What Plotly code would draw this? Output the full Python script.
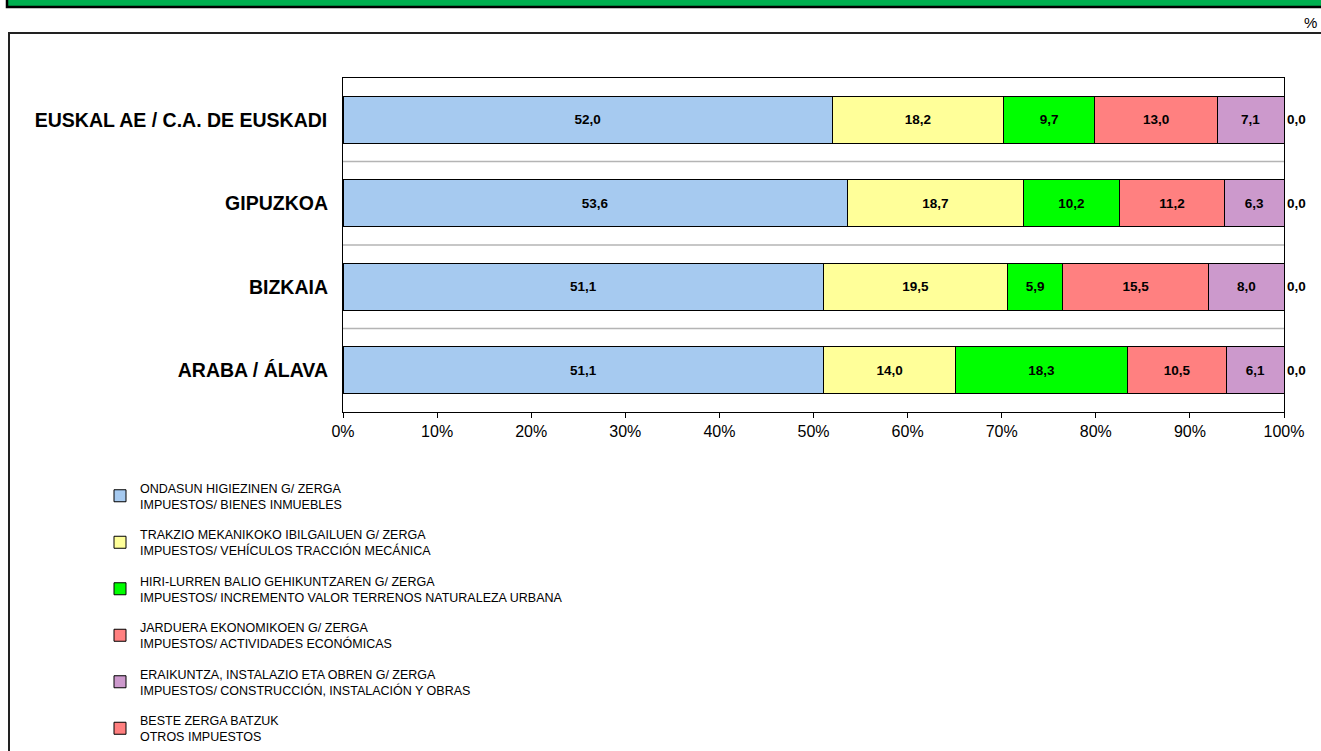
import plotly.graph_objects as go

categories = ["EUSKAL AE / C.A. DE EUSKADI", "GIPUZKOA", "BIZKAIA", "ARABA / ÁLAVA"]
series_names = [
    "ONDASUN HIGIEZINEN G/ ZERGA<br>IMPUESTOS/ BIENES INMUEBLES",
    "TRAKZIO MEKANIKOKO IBILGAILUEN G/ ZERGA<br>IMPUESTOS/ VEHÍCULOS TRACCIÓN MECÁNICA",
    "HIRI-LURREN BALIO GEHIKUNTZAREN G/ ZERGA<br>IMPUESTOS/ INCREMENTO VALOR TERRENOS NATURALEZA URBANA",
    "JARDUERA EKONOMIKOEN G/ ZERGA<br>IMPUESTOS/ ACTIVIDADES ECONÓMICAS",
    "ERAIKUNTZA, INSTALAZIO ETA OBREN G/ ZERGA<br>IMPUESTOS/ CONSTRUCCIÓN, INSTALACIÓN Y OBRAS",
    "BESTE ZERGA BATZUK<br>OTROS IMPUESTOS",
]
bienes_inmuebles = [52.0, 53.6, 51.1, 51.1]
vehiculos = [18.2, 18.7, 19.5, 14.0]
incremento_terrenos = [9.7, 10.2, 5.9, 18.3]
actividades = [13.0, 11.2, 15.5, 10.5]
construccion = [7.1, 6.3, 8.0, 6.1]
otros = [0.0, 0.0, 0.0, 0.0]
series_values = [bienes_inmuebles, vehiculos, incremento_terrenos, actividades, construccion, otros]
colors = ["#A6CAF0", "#FFFF99", "#00FF00", "#FF8080", "#CC99CC", "#FF7F7F"]
tick_vals = [0, 10, 20, 30, 40, 50, 60, 70, 80, 90, 100]
tick_text = [f"{v}%" for v in tick_vals]

W, H = 1321, 751
FONT = "Liberation Sans, Arial, sans-serif"

fig = go.Figure()
for i, (name, vals, col) in enumerate(zip(series_names, series_values, colors)):
    last = i == len(series_names) - 1
    fig.add_trace(go.Bar(
        y=categories, x=vals, orientation="h", name=name,
        marker=dict(color=col, line=dict(color="black", width=1)),
        texttemplate="%{x:.1f}",
        textposition="outside" if last else "inside",
        insidetextanchor="middle",
        textfont=dict(family=FONT, size=13.5, color="black", weight="bold"),
        constraintext="none",
        cliponaxis=False,
        legendgroup=f"g{i}",
        hoverinfo="skip",
    ))

x0, x1 = 343 / W, 1284 / W
y0, y1 = 1 - 412 / H, 1 - 78 / H

shapes = [
    # top green band
    dict(type="rect", xref="paper", yref="paper", x0=7 / W, x1=1.01, y0=1 - 7 / H, y1=1.02,
         fillcolor="#00B050", line=dict(color="black", width=2.5), layer="below"),
    # outer frame
    dict(type="rect", xref="paper", yref="paper", x0=9 / W, x1=1.01, y0=-0.01, y1=1 - 33 / H,
         fillcolor="rgba(0,0,0,0)", line=dict(color="#222222", width=2), layer="below"),
]
# separator lines between categories
for k in range(3):
    shapes.append(dict(type="line", xref="x", yref="y", x0=0, x1=100, y0=k + 0.5, y1=k + 0.5,
                       line=dict(color="#B4B4B4", width=1.5), layer="below"))

fig.update_layout(
    autosize=True, margin=dict(l=0, r=0, t=0, b=0, autoexpand=False),
    paper_bgcolor="white", plot_bgcolor="white",
    barmode="stack", bargap=0.44,
    separators=",.",
    font=dict(family=FONT, color="black"),
    shapes=shapes,
    xaxis=dict(domain=[x0, x1], range=[0, 100], tickvals=tick_vals, ticktext=tick_text,
               showgrid=False, zeroline=False, showline=True, linecolor="black", linewidth=1,
               mirror=True, ticks="outside", ticklen=5, tickcolor="black",
               tickfont=dict(size=16, family=FONT)),
    yaxis=dict(domain=[y0, y1], range=[3.5, -0.5], autorange=False, showgrid=False,
               showline=True, linecolor="black", linewidth=1, mirror=True, ticks="",
               ticksuffix="  ", tickfont=dict(size=19.5, family=FONT, weight="bold")),
    showlegend=True,
    legend=dict(x=100 / W, y=1 - 473 / H, xanchor="left", yanchor="top",
                font=dict(size=12.5, family=FONT), tracegroupgap=11, traceorder="grouped",
                itemwidth=30, bgcolor="rgba(0,0,0,0)"),
    annotations=[dict(text="%", xref="paper", yref="paper", x=1319 / W, y=1 - 22 / H,
                      xanchor="right", yanchor="middle", showarrow=False,
                      font=dict(size=15, family=FONT))],
)

post = (
    "document.documentElement.style.height='100%';"
    "document.documentElement.style.overflow='hidden';"
    "document.body.style.height='100%';"
    "document.body.style.margin='0';"
    "document.body.style.overflow='hidden';"
    "var gd=document.getElementById('{plot_id}');"
    "gd.parentElement.style.height='100%';"
    "gd.parentElement.style.width='100%';"
    "Plotly.Plots.resize(gd);"
)

fig.write_html(
    "out.html",
    default_width="100%",
    default_height="100%",
    config={"responsive": True, "displayModeBar": False},
    post_script=post,
)
